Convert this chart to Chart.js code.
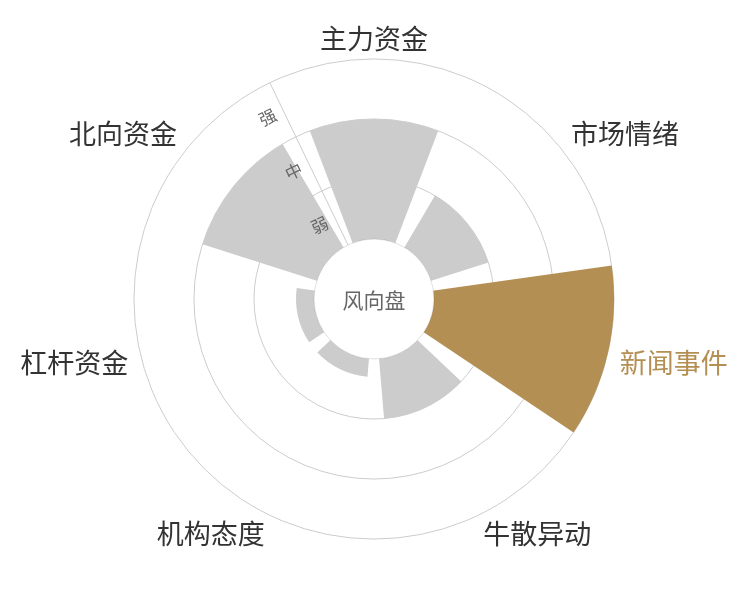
<!DOCTYPE html>
<html lang="zh">
<head>
  <meta charset="UTF-8">
  <title>风向盘</title>
  <script src="https://cdn.jsdelivr.net/npm/chart.js"></script>
  <style>
    body {
      margin: 0;
      background-color: #fff;
    }
    .wrap {
      width: 750px;
      height: 600px;
    }
  </style>
</head>
<body>
  <div class="wrap">
    <canvas id="windChart"></canvas>
  </div>

  <script>
    // Data
    const categories = ['主力资金', '市场情绪', '新闻事件', '牛散异动', '机构态度', '杠杆资金', '北向资金'];
    const values = [2, 1, 3, 1, 0.3, 0.3, 2];   // 0 = none, 1 = 弱, 2 = 中, 3 = 强
    const levelLabels = ['弱', '中', '强'];
    const highlight = 2;                          // 新闻事件
    const centerLabel = '风向盘';

    const FONT = "'Noto Sans CJK SC', 'Noto Sans', sans-serif";
    const GRAY = '#cccccc';
    const GOLD = '#b48f53';

    // each category gets a slice; a bar fills ~81% of it, the rest is gap
    const sliceDeg = 360 / categories.length;
    const barDeg = sliceDeg * 0.813;
    const gapDeg = (sliceDeg - barDeg) / 2;

    // polar area needs one element per arc, so gaps are interleaved as empty arcs
    const labels = [];
    const data = [];
    const angles = [];
    const colors = [];
    categories.forEach((name, i) => {
      labels.push('', name);
      data.push(-1, values[i]);
      angles.push(i === 0 ? gapDeg : gapDeg * 2, barDeg);
      colors.push('rgba(0,0,0,0)', i === highlight ? GOLD : GRAY);
    });

    // white hub with the title in the middle
    const hubPlugin = {
      id: 'hub',
      afterDatasetsDraw(chart) {
        const scale = chart.scales.r;
        const ctx = chart.ctx;
        const r = scale.getDistanceFromCenterForValue(0);
        ctx.save();
        ctx.beginPath();
        ctx.arc(scale.xCenter, scale.yCenter, r, 0, Math.PI * 2);
        ctx.fillStyle = '#fff';
        ctx.fill();
        ctx.strokeStyle = 'rgba(0,0,0,0.12)';
        ctx.lineWidth = 1;
        ctx.stroke();
        ctx.fillStyle = '#666';
        ctx.font = '21px ' + FONT;
        ctx.textAlign = 'center';
        ctx.textBaseline = 'middle';
        ctx.fillText(centerLabel, scale.xCenter, scale.yCenter + 1);
        ctx.restore();
      }
    };

    const ctx = document.getElementById('windChart').getContext('2d');
    new Chart(ctx, {
      type: 'polarArea',
      data: {
        labels: labels,
        datasets: [{
          data: data,
          backgroundColor: colors,
          borderWidth: 0,
          angle: c => angles[c.dataIndex]
        }]
      },
      options: {
        responsive: true,
        maintainAspectRatio: false,
        animation: false,
        layout: { padding: 21 },
        plugins: {
          legend: { display: false },
          tooltip: { enabled: false }
        },
        scales: {
          r: {
            min: -1,
            max: 3,
            startAngle: -sliceDeg / 2,
            ticks: {
              stepSize: 0.5,
              z: 1,
              showLabelBackdrop: false,
              color: '#666',
              font: { size: 17, family: FONT },
              callback: v => {
                const k = v - 0.5;
                return Number.isInteger(k) && k >= 0 && k < levelLabels.length
                  ? levelLabels[k] + '\u3000\u3000' : '';
              }
            },
            grid: {
              circular: true,
              lineWidth: 1,
              color: c => (c.tick && Number.isInteger(c.tick.value) && c.tick.value > 0) ? GRAY : 'rgba(0,0,0,0)'
            },
            angleLines: {
              display: true,
              lineWidth: 1,
              color: c => c.index === 0 ? GRAY : 'rgba(0,0,0,0)'
            },
            pointLabels: {
              display: true,
              padding: 1.5,
              font: { size: 27, family: FONT, lineHeight: 0.6 },
              color: c => c.index === highlight * 2 + 1 ? GOLD : '#333'
            }
          }
        }
      },
      plugins: [hubPlugin]
    });
  </script>
</body>
</html>
